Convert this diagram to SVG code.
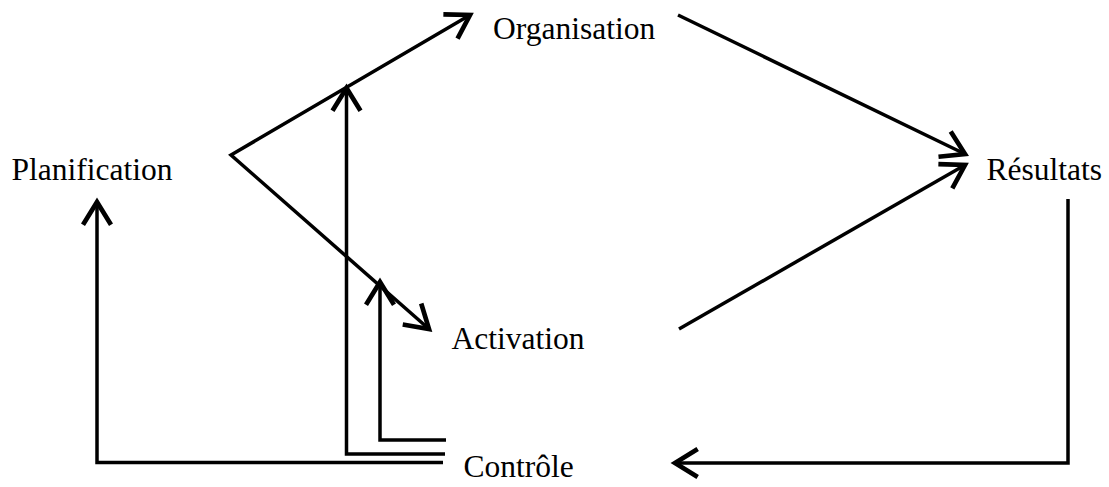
<svg xmlns="http://www.w3.org/2000/svg" width="1109" height="487" viewBox="0 0 1109 487">
  <style>
    .label { font-family: "Liberation Serif", "Times New Roman", serif; font-size: 31.5px; fill: #000; }
    .edge { fill: none; stroke: #000; stroke-width: 3.5; stroke-linejoin: miter; stroke-linecap: butt; }
  </style>
  <defs>
    <marker id="arrow" markerUnits="userSpaceOnUse" markerWidth="40" markerHeight="40" viewBox="-20 -15 25 30" refX="0" refY="0" orient="auto-start-reverse" overflow="visible">
      <path d="M -17,-10.5 L 0,0 L -17,10.5" fill="none" stroke="#000" stroke-width="3.5" stroke-linejoin="miter"/>
    </marker>
  </defs>
  <rect width="1109" height="487" fill="#fff"/>

  <g id="connectors">
    <!-- Planification fans out to Organisation and Activation -->
    <path class="edge" d="M 470,15 L 231,155 L 429,329" marker-start="url(#arrow)" marker-end="url(#arrow)"/>
    <!-- Organisation to Résultats -->
    <line class="edge" x1="678" y1="15" x2="965" y2="154" marker-end="url(#arrow)"/>
    <!-- Activation to Résultats -->
    <line class="edge" x1="679" y1="329" x2="965" y2="165" marker-end="url(#arrow)"/>
    <!-- Résultats to Contrôle -->
    <path class="edge" d="M 1068,199 L 1068,463 L 675,463" marker-end="url(#arrow)"/>
    <!-- Contrôle feedback to Planification -->
    <path class="edge" d="M 443,462.5 L 97,462.5 L 97,202" marker-end="url(#arrow)"/>
    <!-- Contrôle feedback to Organisation -->
    <path class="edge" d="M 445,454 L 346.5,454 L 346.5,88" marker-end="url(#arrow)"/>
    <!-- Contrôle feedback to Activation -->
    <path class="edge" d="M 446,440 L 380,440 L 380,282" marker-end="url(#arrow)"/>
  </g>

  <g id="node-planification"><text class="label" x="11.5" y="180">Planification</text></g>
  <g id="node-organisation"><text class="label" x="493" y="39">Organisation</text></g>
  <g id="node-activation"><text class="label" x="451.5" y="349">Activation</text></g>
  <g id="node-resultats"><text class="label" x="986.5" y="180">Résultats</text></g>
  <g id="node-controle"><text class="label" x="463.5" y="476.5">Contrôle</text></g>
</svg>
